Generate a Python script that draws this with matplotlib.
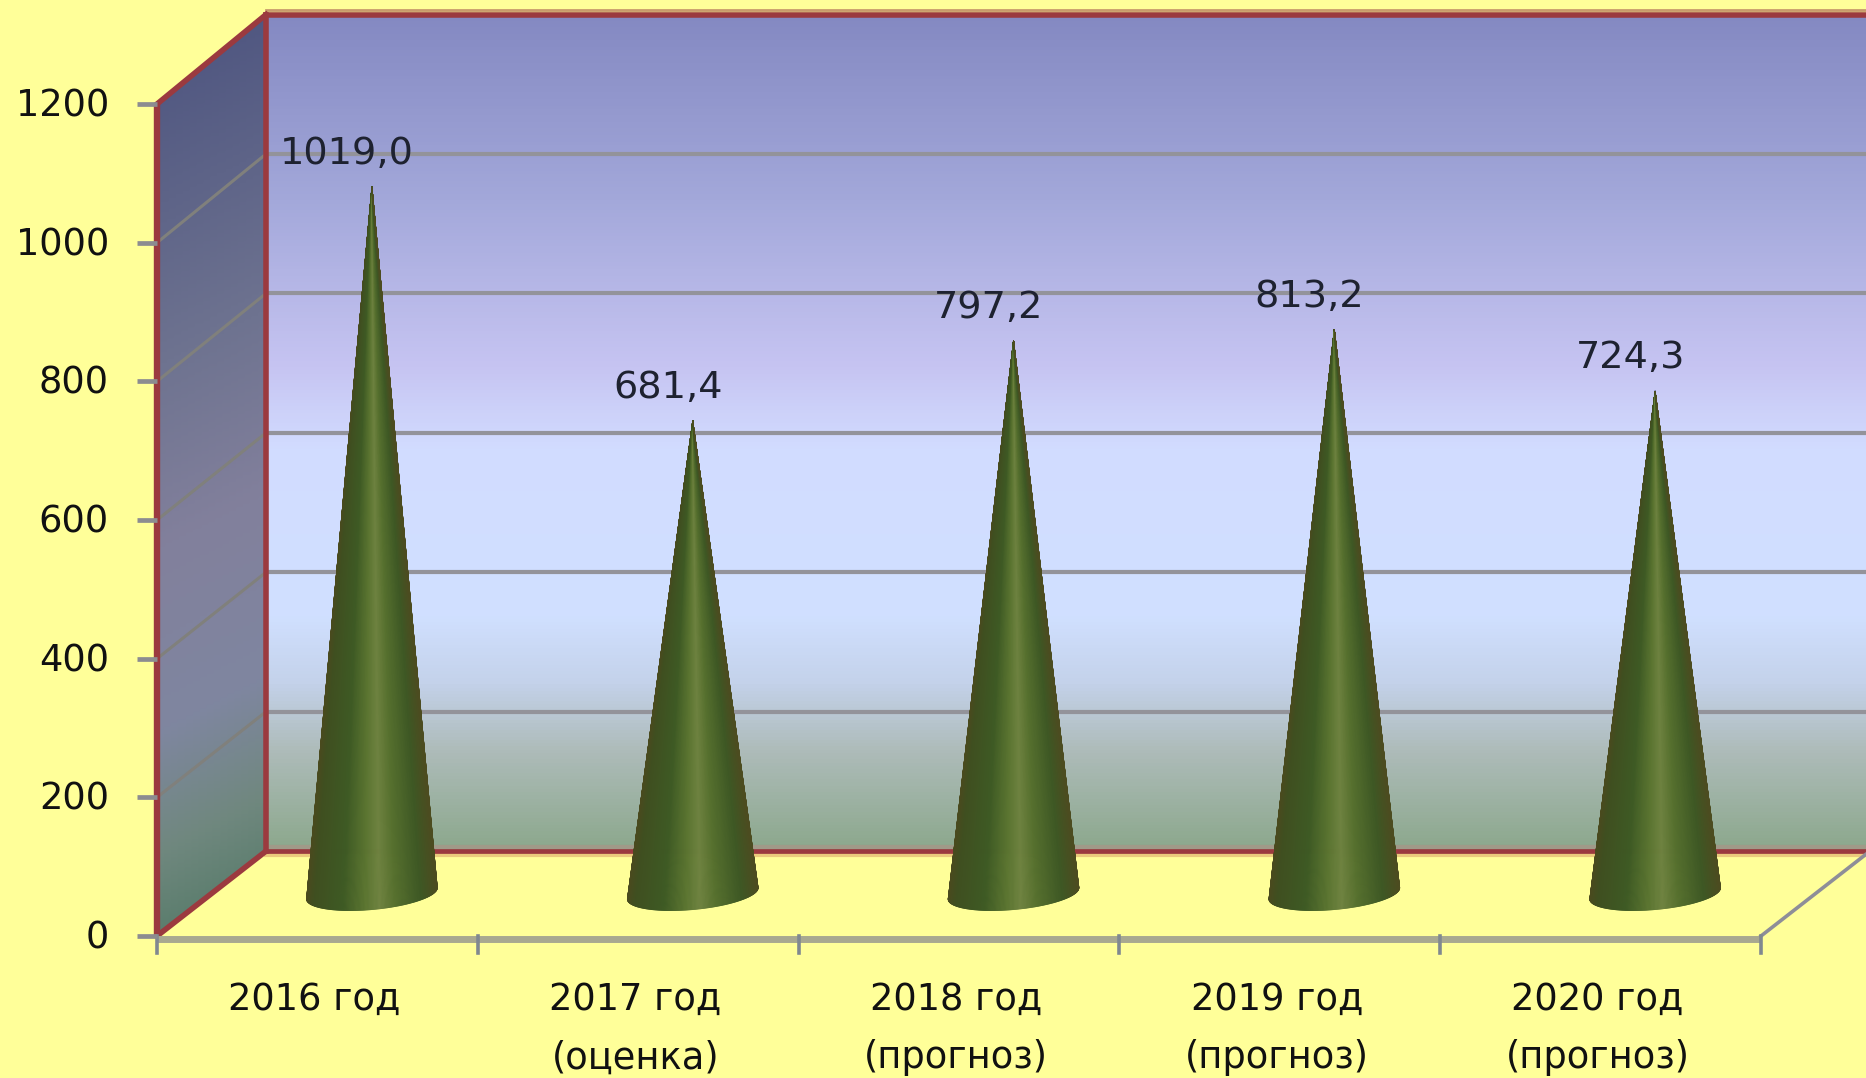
import numpy as np
import matplotlib
matplotlib.use("Agg")
import matplotlib.pyplot as plt
from matplotlib.collections import PolyCollection
from matplotlib.colors import LinearSegmentedColormap
from matplotlib.patches import Polygon

# Values
categories = [["2016 год"], ["2017 год", "(оценка)"], ["2018 год", "(прогноз)"],
              ["2019 год", "(прогноз)"], ["2020 год", "(прогноз)"]]
values = [1019.0, 681.4, 797.2, 813.2, 724.3]
y_ticks = [0, 200, 400, 600, 800, 1000, 1200]

# Depth of the fake 3d box, in data units
dx = 0.34
dy = 122.5
back_scale = 1.0055
cone_depth = 0.5
cone_rx = 0.192
cone_rd = 0.2


def back(level):
    # height of a value on the back wall
    return dy + level * back_scale


plt.rcParams["font.family"] = "DejaVu Sans"
fig = plt.figure(figsize=(18.66, 10.78), dpi=100, facecolor="#FFFF99")
ax = fig.add_axes([0, 0, 1, 1])
ax.axis("off")

# Back wall
wall_cmap = LinearSegmentedColormap.from_list("wall", [
    (0.0, "#8489C2"), (0.22, "#A3A8DA"), (0.42, "#C6C4F2"), (0.52, "#D2DCFF"),
    (0.72, "#D0E0FF"), (0.80, "#C4D2EA"), (0.88, "#AEBCBA"), (1.0, "#8CA88C")])
grad = np.linspace(0, 1, 256).reshape(-1, 1)
wall = ax.imshow(grad, cmap=wall_cmap, aspect="auto", zorder=1,
                 extent=[-0.5 + dx, 4.5 + dx, back(0), back(1200)])
wall.set_clip_path(Polygon([(-0.5 + dx, back(0)), (4.5 + dx, back(0)), (4.5 + dx, back(1200)),
                            (-0.5 + dx, back(1200))], transform=ax.transData))

# Left side wall, slanted shading from the top corner
side_cmap = LinearSegmentedColormap.from_list("side", [
    (0.0, "#4E5580"), (0.35, "#6E7390"), (0.55, "#82809C"), (0.75, "#7F86A0"),
    (0.88, "#70887F"), (1.0, "#557A68")])
xs, ys = np.meshgrid(np.linspace(0, 1, 64), np.linspace(0, 1, 256))
side = ax.imshow(ys + 0.06 * (xs - 0.5), cmap=side_cmap, vmin=0, vmax=1, aspect="auto", zorder=1,
                 origin="upper", extent=[-0.5, -0.5 + dx, 0, back(1200)])
side.set_clip_path(Polygon([(-0.5, 0), (-0.5, 1200), (-0.5 + dx, back(1200)), (-0.5 + dx, back(0))],
                           transform=ax.transData))

# Grid lines on walls
for t in y_ticks[1:-1]:
    ax.plot([-0.5 + dx, 4.5 + dx], [back(t), back(t)], color="#93939A", lw=3.0, zorder=2)
    ax.plot([-0.5, -0.5 + dx], [t, back(t)], color="#80807C", lw=2.2, zorder=2)

# Red box edges
red = "#9B3A3F"
ax.plot([4.5 + dx, -0.5 + dx], [back(0) + 6, back(0) + 6], color="#A09A88", lw=3.0, zorder=2)
ax.plot([4.5 + dx, -0.5 + dx], [back(0) - 6, back(0) - 6], color="#EBCB7C", lw=3.0, zorder=2)
ax.plot([4.5 + dx, -0.5 + dx], [back(1200) + 6, back(1200) + 6], color="#C89A6C", lw=2.0, zorder=2)
ax.plot([-0.5, -0.5], [0, 1200], color=red, lw=4.6, zorder=3, solid_capstyle="butt")
ax.plot([-0.5 + dx, -0.5 + dx], [back(0), back(1200)], color=red, lw=4.0, zorder=3)
ax.plot([-0.5, -0.5 + dx], [1200, back(1200)], color=red, lw=4.0, zorder=3)
ax.plot([-0.5, -0.5 + dx], [0, back(0)], color=red, lw=4.0, zorder=3)
ax.plot([-0.5 + dx, 4.5 + dx], [back(1200), back(1200)], color=red, lw=4.0, zorder=3)
ax.plot([-0.5 + dx, 4.5 + dx], [back(0), back(0)], color=red, lw=3.4, zorder=3)

# Floor front and right edge, ticks
ax.plot([-0.5, 4.5], [-4, -4], color="#A8A890", lw=5.0, zorder=3, solid_capstyle="butt")
ax.plot([4.5, 4.5 + dx], [0, back(0)], color="#8E8E98", lw=2.6, zorder=3)
ax.plot(np.repeat(np.arange(-0.5, 5), 2).reshape(-1, 2).T, np.array([[0], [-24]]), color="#808890",
        lw=2.6, zorder=3)
for t in y_ticks:
    ax.plot([-0.5 - 0.0625, -0.5], [t, t], color="#8C8C90", lw=3.4, zorder=3, solid_capstyle="butt")
    ax.annotate(str(t), (-0.5, t), xytext=(-48, -2), textcoords="offset pixels", ha="right",
                va="center", fontsize=26.5, color="#111111", zorder=6)

# Cones
cone_cmap = LinearSegmentedColormap.from_list("cone", [
    (0.0, "#4A4A1E"), (0.06, "#3F4F20"), (0.28, "#3E5A24"), (0.45, "#5A7430"), (0.56, "#6E8240"),
    (0.68, "#56702E"), (0.88, "#3E5824"), (1.0, "#4C4C20")])
t = np.linspace(0, 2 * np.pi, 361)[:-1]
for i, v in enumerate(values):
    cx = i + cone_depth * dx
    cy = cone_depth * dy
    # circular base seen through the same oblique projection as the box
    bx = cx + cone_rx * np.cos(t) + cone_rd * dx * np.sin(t)
    by = cy + cone_rd * dy * np.sin(t)
    # silhouette: base arc between the two tangent points seen from the apex (pixel-like scale)
    ang = np.arctan2((by - cy - v) * 0.693, (bx - cx) * 320.8)
    left = np.argmin(ang)
    right = np.argmax(ang)
    idx = np.arange(left, right + 1) if right > left else np.arange(left, right + 361) % 360
    if by[idx].mean() > cy:
        idx = np.arange(right, left + 361) % 360 if right > left else np.arange(right, left + 1)
        idx = idx[::-1]
    polys = [[(cx, cy + v), (bx[a], by[a]), (bx[b], by[b])] for a, b in zip(idx[:-1], idx[1:])]
    u = (bx[idx] - bx[idx].min()) / (bx[idx].max() - bx[idx].min())
    cols = cone_cmap(0.5 * (u[:-1] + u[1:]))
    ax.add_collection(PolyCollection(polys, facecolors=cols, edgecolors=cols, linewidths=0.6, zorder=4))
    ax.annotate(f"{v:.1f}".replace(".", ","), (cx, cy + v), xytext=(-25, 33), textcoords="offset pixels",
                ha="center", va="center", fontsize=27.5, color="#1E2230", zorder=6)

# Category labels
for i, lines in enumerate(categories):
    for j, line in enumerate(lines):
        ax.annotate(line, (i, 0), xytext=(-3, -63 - 59 * j), textcoords="offset pixels", ha="center",
                    va="center", fontsize=26.5, color="#111111", zorder=6, annotation_clip=False)

ax.set_xlim(-0.5 - 157 / 320.8, -0.5 + (1866 - 157) / 320.8)
ax.set_ylim(-(1078 - 936) / 0.6933, 936 / 0.6933)
fig.savefig("out.png", dpi=100, facecolor=fig.get_facecolor())
